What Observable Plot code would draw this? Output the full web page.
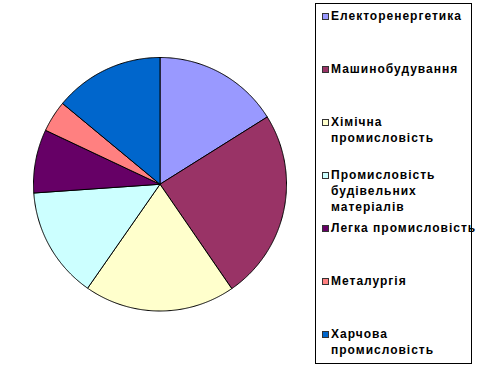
<!DOCTYPE html>
<html><head><meta charset="utf-8">
<script src="https://cdn.jsdelivr.net/npm/d3@7"></script>
<script src="https://cdn.jsdelivr.net/npm/@observablehq/plot@0.6"></script>
<style>
body{margin:0;background:#fff;}
#wrap{position:relative;width:482px;height:369px;overflow:hidden;background:#fff;}
#wrap svg{position:absolute;left:0;top:0;}
#legend{position:absolute;left:315px;top:3px;width:157px;height:361px;border:1px solid #000;box-sizing:border-box;font:bold 12px "Liberation Sans",Arial,sans-serif;color:#000;}
.item{position:absolute;left:0;width:170px;}
.sw{position:absolute;left:6px;top:4px;width:7px;height:7px;box-sizing:border-box;border:1px solid #333;}
.lab{position:absolute;left:15px;top:0;line-height:15.7px;white-space:pre;letter-spacing:1px;}
</style></head>
<body><div id="wrap"><div id="legend"></div></div>
<script>
const categories = ["Електоренергетика","Машинобудування","Хімічна промисловість","Промисловість будівельних матеріалів","Легка промисловість","Металургія","Харчова промисловість"];
const legendLabels = ["Електоренергетика","Машинобудування","Хімічна\nпромисловість","Промисловість\nбудівельних\nматеріалів","Легка промисловість","Металургія","Харчова\nпромисловість"];
const values = [16.1, 24.3, 19.3, 14.2, 8.1, 4.0, 14.0];
const colors = ["#9999FF","#993366","#FFFFCC","#CCFFFF","#660066","#FF8080","#0066CC"];

const arcs = d3.pie().sort(null).value(d => d)(values);
const pts = [];
arcs.forEach((a, i) => {
  const c = categories[i];
  pts.push({c, x: 0, y: 0});
  const n = Math.max(2, Math.ceil((a.endAngle - a.startAngle) / (Math.PI / 360)));
  for (let j = 0; j <= n; j++) {
    const t = a.startAngle + (a.endAngle - a.startAngle) * j / n;
    pts.push({c, x: Math.sin(t), y: Math.cos(t)});
  }
  pts.push({c, x: 0, y: 0});
});

const chart = Plot.plot({
  width: 482, height: 369,
  marginLeft: 33, marginRight: 196, marginTop: 57, marginBottom: 58.5,
  x: {domain: [-1, 1], axis: null},
  y: {domain: [-1, 1], axis: null},
  color: {domain: categories, range: colors},
  marks: [
    Plot.line(pts, {x: "x", y: "y", z: "c", fill: "c", stroke: "black", strokeWidth: 1, curve: "linear", strokeLinejoin: "miter"})
  ]
});
document.getElementById("wrap").insertBefore(chart, document.getElementById("legend"));

const legend = document.getElementById("legend");
legendLabels.forEach((l, i) => {
  const it = document.createElement("div");
  it.className = "item";
  it.style.top = (5.3 + 53 * i) + "px";
  const sw = document.createElement("div");
  sw.className = "sw";
  sw.style.background = colors[i];
  const lab = document.createElement("div");
  lab.className = "lab";
  lab.textContent = l;
  it.appendChild(sw); it.appendChild(lab);
  legend.appendChild(it);
});
</script></body></html>
